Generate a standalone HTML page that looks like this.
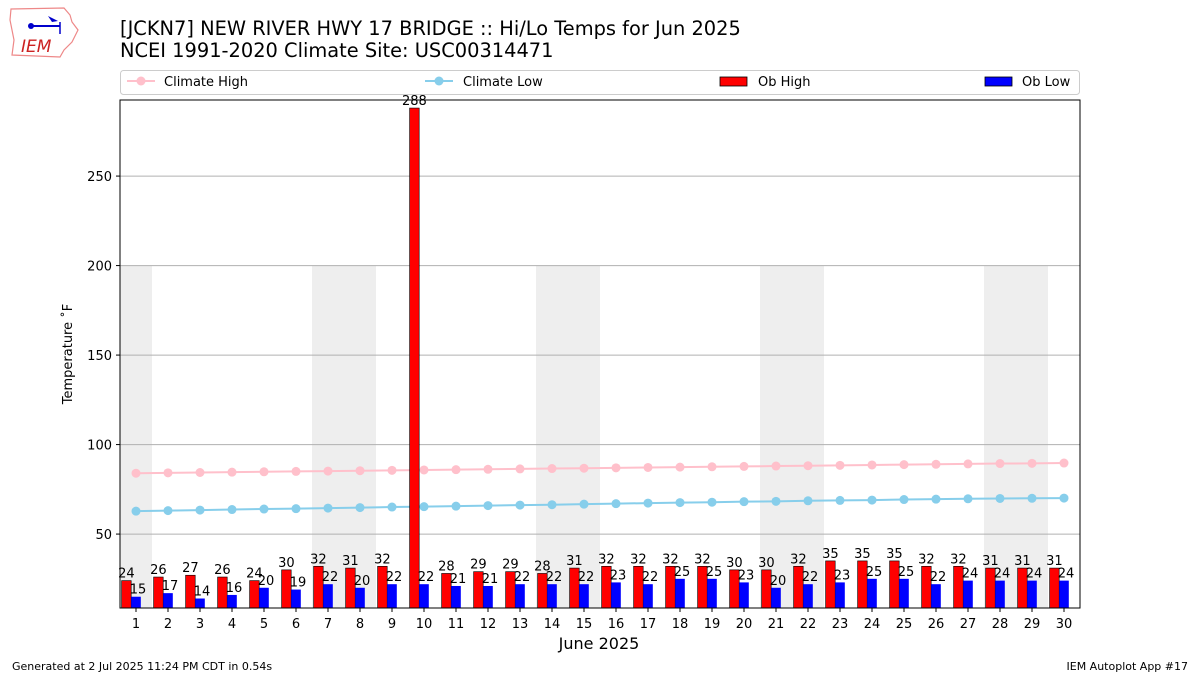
<!DOCTYPE html>
<html><head><meta charset="utf-8"><style>
body{margin:0;background:#fff;font-family:"Liberation Sans","DejaVu Sans",sans-serif}
svg text{font-family:"DejaVu Sans","Liberation Sans",sans-serif}
</style></head><body>
<svg id="c" width="1200" height="675" xmlns="http://www.w3.org/2000/svg">
<g>
<path d="M11,9 L64,8 L70,15 L72,22 L78,30 L72,42 L64,50 L60,57 L12,55 L14,40 L10,20 Z" fill="none" stroke="#e88" stroke-width="1.2"/>
<line x1="30" y1="26" x2="60" y2="26" stroke="#00c" stroke-width="2"/>
<circle cx="31" cy="26" r="3" fill="#00c"/>
<path d="M48,16 L58,21 L52,22 Z" fill="#00c"/>
<line x1="60" y1="22" x2="60" y2="34" stroke="#00c" stroke-width="1.5"/>
<text x="21" y="52" font-family="Liberation Serif" font-style="italic" font-size="17" fill="#c22">IEM</text>
</g>
<text x="120" y="35" font-size="19.4">[JCKN7] NEW RIVER HWY 17 BRIDGE :: Hi/Lo Temps for Jun 2025</text>
<text x="120" y="57" font-size="19.4">NCEI 1991-2020 Climate Site: USC00314471</text>
<g id="legend">
<rect x="120.5" y="70.5" width="959" height="24" rx="3" fill="#fff" stroke="#ccc"/>
<g><line x1="127" y1="81" x2="155" y2="81" stroke="pink" stroke-width="2"/><circle cx="141" cy="81" r="4.5" fill="pink"/><text x="164" y="86" font-size="13">Climate High</text></g>
<g><line x1="425" y1="81" x2="453" y2="81" stroke="skyblue" stroke-width="2"/><circle cx="439" cy="81" r="4.5" fill="skyblue"/><text x="463" y="86" font-size="13">Climate Low</text></g>
<g><rect x="720" y="77" width="27" height="9" fill="red" stroke="#000" stroke-width="0.8"/><text x="758" y="86" font-size="13">Ob High</text></g>
<g><rect x="985" y="77" width="27" height="9" fill="blue" stroke="#000" stroke-width="0.8"/><text x="1022" y="86" font-size="13">Ob Low</text></g>
</g>
<g id="plot"></g>
<text x="599" y="649" font-size="16" text-anchor="middle">June 2025</text>
<text transform="translate(72,354) rotate(-90)" font-size="13" text-anchor="middle">Temperature ˚F</text>
<text x="12" y="670" font-size="11">Generated at 2 Jul 2025 11:24 PM CDT in 0.54s</text>
<text x="1188" y="670" font-size="11" text-anchor="end">IEM Autoplot App #17</text>
</svg>
<script>
const days=[1,2,3,4,5,6,7,8,9,10,11,12,13,14,15,16,17,18,19,20,21,22,23,24,25,26,27,28,29,30];
const obHigh=[24,26,27,26,24,30,32,31,32,288,28,29,29,28,31,32,32,32,32,30,30,32,35,35,35,32,32,31,31,31];
const obLow=[15,17,14,16,20,19,22,20,22,22,21,21,22,22,22,23,22,25,25,23,20,22,23,25,25,22,24,24,24,24];
const climHigh=[84.0,84.2,84.4,84.6,84.8,85.0,85.2,85.4,85.6,85.8,86.0,86.2,86.4,86.6,86.8,87.0,87.2,87.4,87.6,87.8,88.0,88.2,88.4,88.6,88.8,89.0,89.2,89.4,89.5,89.7];
const climLow=[62.8,63.1,63.4,63.7,64.0,64.2,64.5,64.8,65.1,65.3,65.6,65.9,66.2,66.4,66.7,67.0,67.3,67.6,67.8,68.1,68.3,68.6,68.8,69.0,69.3,69.5,69.7,69.9,70.0,70.1];
const yTicks=[50,100,150,200,250];
const weekendDays=[1,7,8,14,15,21,22,28,29];
const NS='http://www.w3.org/2000/svg';
const X0=120,X1=1080,Y0=608,Y1=100,VMIN=8.7,VMAX=292.5;
const xs=d=>X0+(d-0.5)/30*(X1-X0);
const ys=v=>Y0-(v-VMIN)/(VMAX-VMIN)*(Y0-Y1);
const g=document.getElementById('plot');
function mk(t,a,p){const e=document.createElementNS(NS,t);for(const k in a)e.setAttribute(k,a[k]);(p||g).appendChild(e);return e;}
weekendDays.forEach(d=>{const e=mk('rect',{x:xs(d-0.5),y:ys(200),width:xs(d+0.5)-xs(d-0.5),height:Y0-ys(200),fill:'#eee'});

});
yTicks.forEach(v=>{const y=ys(v);const l=mk('line',{x1:X0,x2:X1,y1:y,y2:y,stroke:'#b0b0b0','stroke-width':1});


mk('line',{x1:X0-4,x2:X0,y1:y,y2:y,stroke:'#000'});
const t=mk('text',{x:X0-8,y:y+5,'font-size':13,'text-anchor':'end'});t.textContent=v;

});
[[climHigh,'pink','climate-high-line'],[climLow,'skyblue','climate-low-line']].forEach(([arr,col,nm])=>{
 const p=mk('polyline',{points:arr.map((v,i)=>xs(days[i])+','+ys(v)).join(' '),fill:'none',stroke:col,'stroke-width':2});
 
 
 arr.forEach((v,i)=>{const m=mk('circle',{cx:xs(days[i]),cy:ys(v),r:4.5,fill:col});
 
 });
});
const bw=(X1-X0)/30*0.3;
days.forEach((d,i)=>{
 const c=xs(d);
 const r=mk('rect',{x:c-1.5*bw,y:ys(obHigh[i]),width:bw,height:Y0-ys(obHigh[i]),fill:'red',stroke:'#000','stroke-width':0.6});
 
 
 const b=mk('rect',{x:c-0.5*bw,y:ys(obLow[i]),width:bw,height:Y0-ys(obLow[i]),fill:'blue'});
 
 
 const t1=mk('text',{x:c-bw,y:ys(obHigh[i])-3,'font-size':13,'text-anchor':'middle'});t1.textContent=obHigh[i];
 
 
 const t2=mk('text',{x:c+2,y:ys(obLow[i])-3,'font-size':13,'text-anchor':'middle'});t2.textContent=obLow[i];
 
 
 mk('line',{x1:c,x2:c,y1:Y0,y2:Y0+4,stroke:'#000'});
 const tx=mk('text',{x:c,y:Y0+20,'font-size':13,'text-anchor':'middle'});tx.textContent=d;
 
 
});
const f=mk('rect',{x:X0,y:Y1,width:X1-X0,height:Y0-Y1,fill:'none',stroke:'#000','stroke-width':1});


</script>
</body></html>
